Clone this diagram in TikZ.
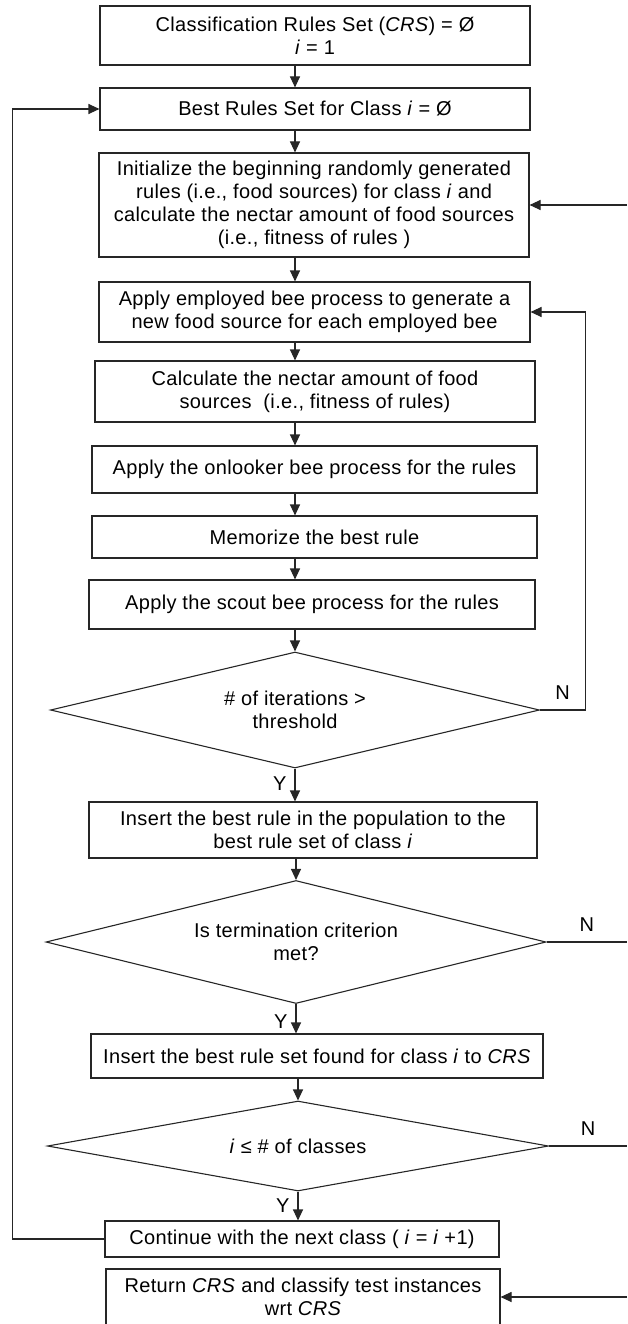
\documentclass[tikz,border=0pt]{standalone}
\usepackage{fontspec}
\setmainfont{Liberation Sans}[LetterSpace=1.7]
\usetikzlibrary{arrows.meta, shapes.geometric}

\tikzset{
  txt/.style={font=\fontsize{20}{23}\selectfont},
  box/.style={txt, draw=black!85, line width=1.1pt, rectangle, align=center, inner sep=0pt},
  decision/.style={txt, draw=black!85, line width=1.1pt, diamond, aspect=4.2, align=center, inner sep=0pt},
  arr/.style={draw=black!85, line width=1.1pt, -{Triangle[length=11pt,width=10pt]}},
  line/.style={draw=black!85, line width=1.1pt},
  lbl/.style={txt, inner sep=4pt},
  ylbl/.style={txt, left, inner sep=8pt},
  nlbl/.style={txt, above, inner sep=10pt},
}

\begin{document}
\begin{tikzpicture}[x=1pt, y=-1pt]
  \useasboundingbox (0,0) rectangle (627,1324);
  % main column
  \node[box, minimum width=430pt, minimum height=59pt] (init) at (315,35.5) {Classification Rules Set (\textit{CRS}) = Ø\\\textit{i} = 1};
  \node[box, minimum width=430pt, minimum height=42pt] (bestset) at (315,109) {Best Rules Set for Class \textit{i} = Ø};
  \node[box, minimum width=430pt, minimum height=104pt] (gen) at (314,205) {Initialize the beginning randomly generated\\rules (i.e., food sources) for class \textit{i} and\\calculate the nectar amount of food sources\\(i.e., fitness of rules )};
  \node[box, minimum width=431pt, minimum height=60pt] (employ) at (314.5,312) {Apply employed bee process to generate a\\new food source for each employed bee};
  \node[box, minimum width=440pt, minimum height=61pt] (nectar) at (315,391.5) {Calculate the nectar amount of food\\sources\ \ (i.e., fitness of rules)};
  \node[box, minimum width=445pt, minimum height=47pt] (onlook) at (314.5,469.5) {Apply the onlooker bee process for the rules};
  \node[box, minimum width=445pt, minimum height=42pt] (memo) at (314.5,537) {Memorize the best rule};
  \node[box, minimum width=446pt, minimum height=49pt] (scout) at (312,604.5) {Apply the scout bee process for the rules};
  \node[decision, minimum width=489pt, minimum height=116pt] (iter) at (295,710) {\# of iterations >\\threshold};
  \node[box, minimum width=448pt, minimum height=56pt] (insrule) at (313,830) {Insert the best rule in the population to the\\best rule set of class \textit{i}};
  \node[decision, minimum width=500pt, minimum height=123pt] (term) at (296,942) {Is termination criterion\\met?};
  \node[box, minimum width=452pt, minimum height=44pt] (insset) at (317,1056) {Insert the best rule set found for class \textit{i} to \textit{CRS}};
  \node[decision, minimum width=501pt, minimum height=90pt] (more) at (298,1146) {\textit{i} ≤ \# of classes};
  \node[box, minimum width=394pt, minimum height=36pt] (next) at (302,1239) {Continue with the next class ( \textit{i} = \textit{i} +1)};
  \node[box, minimum width=394pt, minimum height=56pt] (ret) at (303,1297) {Return \textit{CRS} and classify test instances\\wrt \textit{CRS}};
  \coordinate (edge) at (627,0);

  % downward flow
  \foreach \a/\b in {init/bestset, bestset/gen, gen/employ, employ/nectar, nectar/onlook, onlook/memo, memo/scout, scout/iter}
    \draw[arr] (\a.south -| iter) -- (\b.north -| iter);
  \draw[arr] (iter.south) -- node[ylbl, pos=0.45]{Y} (insrule.north -| iter);
  \draw[arr] (insrule.south -| term) -- (term.north);
  \draw[arr] (term.south) -- node[ylbl, pos=0.6]{Y} (insset.north -| term);
  \draw[arr] (insset.south -| more) -- (more.north);
  \draw[arr] (more.south) -- node[ylbl, pos=0.5]{Y} (next.north -| more);

  % loops
  \draw[arr] (iter.east) -- node[nlbl]{N} ++(45,0) |- (employ.east);
  \draw[line] (term.east) -- node[nlbl]{N} (term.east -| edge);
  \draw[line] (more.east) -- node[nlbl]{N} (more.east -| edge);
  \draw[arr] (gen.east -| edge) -- (gen.east);
  \draw[arr] (ret.east -| edge) -- (ret.east);
  \draw[arr] (next.west) -- ++(-92,0) |- (bestset.west);
\end{tikzpicture}
\end{document}
